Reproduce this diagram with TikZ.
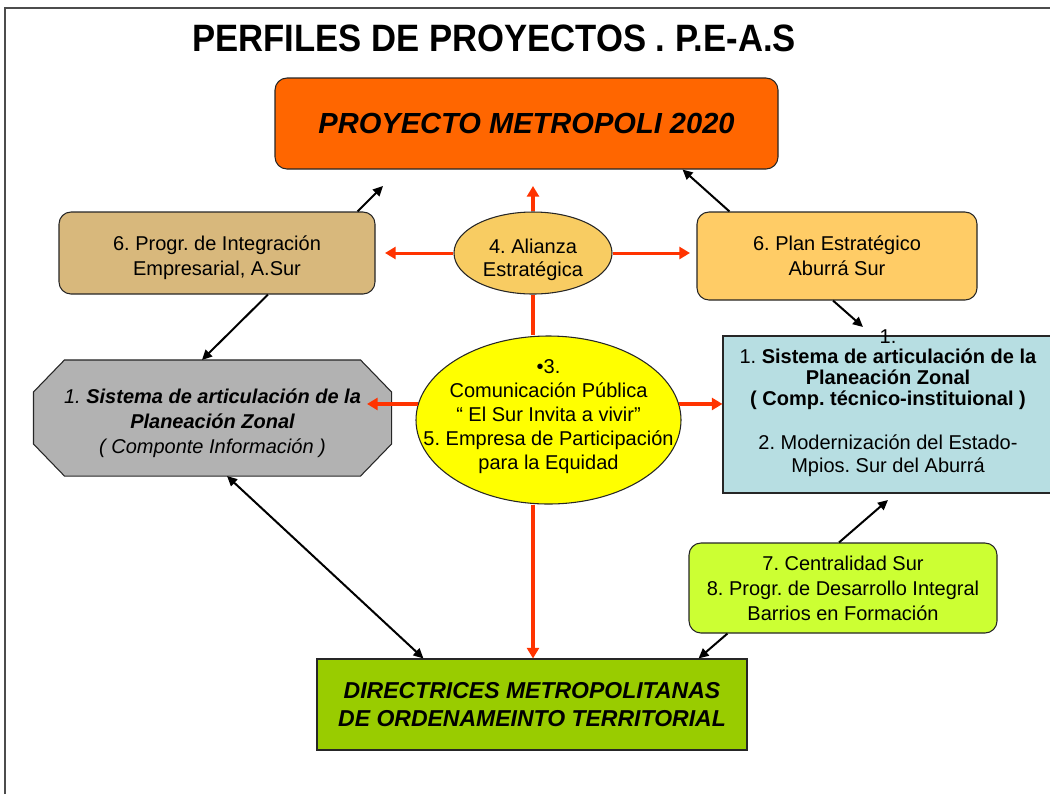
\documentclass[tikz,border=0pt]{standalone}
\usepackage{fontspec}
\setmainfont{Liberation Sans}
\usepackage{xcolor}
\usetikzlibrary{shapes.geometric,arrows.meta,backgrounds}
\frenchspacing

\definecolor{metroC}{RGB}{255,102,0}
\definecolor{integC}{RGB}{216,184,124}
\definecolor{alianzaC}{RGB}{248,204,98}
\definecolor{planC}{RGB}{255,204,102}
\definecolor{zonalC}{RGB}{178,178,178}
\definecolor{commC}{RGB}{255,255,0}
\definecolor{tecnicoC}{RGB}{183,222,226}
\definecolor{centroC}{RGB}{204,255,51}
\definecolor{dirsC}{RGB}{153,204,0}
\definecolor{redA}{RGB}{255,51,0}

\tikzset{
	txt/.style={font=\fontsize{15}{18.75}\selectfont, align=center},
	rbox/.style={draw=black!85, line width=0.8pt, rounded corners=9pt, inner sep=0pt, txt},
	sbox/.style={draw=black!85, line width=0.8pt, inner sep=0pt, txt},
	ebox/.style={ellipse, draw=black!85, line width=0.8pt, inner sep=0pt, txt},
	redarr/.style={draw=redA, line width=3pt, -{Triangle[length=8pt,width=9pt]}},
	redline/.style={draw=redA, line width=3pt},
	blkarr/.style={draw=black, line width=1.5pt, -{Triangle[length=7.5pt,width=7pt]}},
	blkdbl/.style={draw=black, line width=1.5pt, {Triangle[length=7.5pt,width=7pt]}-{Triangle[length=7.5pt,width=7pt]}}
}

\begin{document}
\begin{tikzpicture}[x=0.75pt,y=0.75pt,yscale=-1,xscale=1]
	\useasboundingbox (0,0) rectangle (1050,794);
	
	%Frame
	\draw[line width=1pt, black!70] (5,794) -- (5,8) -- (1050,8);
	
	% Text Node
	\node[font=\fontsize{26}{30}\selectfont\bfseries] (title) at (494,38) {\scalebox{1}[1.1]{PERFILES DE PROYECTOS . P.E-A.S}};
	
	%Rounded Rect
	\node[rbox, fill=metroC, minimum width=377.25pt, minimum height=68.25pt, font=\fontsize{21.8}{26}\selectfont\bfseries\itshape] (metro) at (526.5,123.5) {PROYECTO METROPOLI 2020};
	%Rounded Rect
	\node[rbox, fill=integC, minimum width=237pt, minimum height=61.5pt] (integ) at (217,253) {\rule{0pt}{18pt}6. Progr. de Integración\\Empresarial, A.Sur};
	%Ellipse
	\node[ebox, fill=alianzaC, minimum width=118.5pt, minimum height=61.5pt] (alianza) at (533,253) {\smash{\makebox[0pt]{\raisebox{-9pt}{\fontsize{15}{17.25}\selectfont\begin{tabular}{@{}c@{}}4. Alianza\\Estratégica\end{tabular}}}}};
	%Rounded Rect
	\node[rbox, fill=planC, minimum width=210pt, minimum height=66pt] (plan) at (837,256) {6. Plan Estratégico\\Aburrá Sur};
	%Octagon
	\node[sbox, draw=none, minimum width=267.75pt, minimum height=86.25pt] (zonal) at (212.5,418) {\rule{0pt}{19pt}\itshape 1. \textbf{Sistema de articulación de la}\\\bfseries\itshape Planeación Zonal\\\itshape ( Componte Información )};
	\begin{scope}[on background layer]
		\filldraw[draw=black!85, line width=0.8pt, fill=zonalC] ([xshift=23.25pt]zonal.north west) -- ([xshift=-23.25pt]zonal.north east) -- ([yshift=24pt]zonal.north east) -- ([yshift=-24pt]zonal.south east) -- ([xshift=-23.25pt]zonal.south east) -- ([xshift=23.25pt]zonal.south west) -- ([yshift=-24pt]zonal.south west) -- ([yshift=24pt]zonal.north west) -- cycle;
	\end{scope}
	%Ellipse
	\node[ebox, fill=commC, minimum width=198.75pt, minimum height=126pt] (comm) at (548.5,420) {\smash{\makebox[0pt]{\raisebox{-0.8pt}{\fontsize{15}{18}\selectfont\begin{tabular}{@{}c@{}}•3.\\Comunicación Pública\\“ El Sur Invita a vivir”\\5. Empresa de Participación\\para la Equidad\end{tabular}}}}};
	%Rect
	\node[sbox, fill=tecnicoC, minimum width=267.75pt, minimum height=117.75pt] (tecnico) at (901.5,414.5) {\smash{\makebox[0pt]{\raisebox{4.4pt}{\fontsize{15}{15}\selectfont\begin{tabular}{@{}c@{}}1.\\1. \textbf{Sistema de articulación de la}\\\textbf{Planeación Zonal}\\\textbf{( Comp. técnico-instituional )}\\[18pt]2. Modernización del Estado-\\[1.5pt]Mpios. Sur del Aburrá\end{tabular}}\hspace*{20.25pt}}}};
	%Rounded Rect
	\node[rbox, fill=centroC, minimum width=231pt, minimum height=67.5pt] (centro) at (843,588) {7. Centralidad Sur\\8. Progr. de Desarrollo Integral\\Barrios en Formación};
	%Rect
	\node[sbox, fill=dirsC, minimum width=322.5pt, minimum height=68.25pt, font=\fontsize{17.25}{21}\selectfont\bfseries\itshape] (dirs) at (532,704.5) {DIRECTRICES METROPOLITANAS\\DE ORDENAMEINTO TERRITORIAL};
	
	%Free ends
	\coordinate (metroL) at (383,186);
	\coordinate (metroM) at (533,186);
	\coordinate (integR) at (385,253);
	\coordinate (planL) at (690,253);
	\coordinate (zonalR) at (367,410);
	\coordinate (tecTop) at (863,327);
	\coordinate (tecBot) at (888,500);
	
	%Straight Lines (red)
	\draw[redarr] (alianza.north) -- (metroM);
	\draw[redarr, line width=2.25pt] (alianza.west) -- (integR);
	\draw[redarr, line width=2.25pt] (alianza.east) -- (planL);
	\draw[redline] (alianza.south) -- (alianza.south |- comm.north);
	\draw[redarr] (comm.173) -- (comm.173 -| zonalR);
	\draw[redarr] (comm.7) -- (comm.7 -| tecnico.west);
	\draw[redarr] (alianza.south |- comm.south) -- (alianza.south |- dirs.north);
	
	%Straight Lines (black)
	\draw[blkarr] ([xshift=-13.5pt]integ.north east) -- (metroL);
	\draw[blkarr] ([xshift=24.75pt]plan.north west) -- ([xshift=-72pt]metro.south east);
	\draw[blkarr] ([xshift=38.25pt]integ.south) -- ([xshift=-7.9pt]zonal.north);
	\draw[blkarr] ([xshift=-3pt]plan.south) -- (tecTop);
	\draw[blkdbl] ([xshift=10.9pt]zonal.south) -- ([xshift=80.25pt]dirs.north west);
	\draw[blkarr] ([xshift=-3pt]centro.north) -- (tecBot);
	\draw[blkarr] ([xshift=29.25pt]centro.south west) -- ([xshift=-36.75pt]dirs.north east);
	
\end{tikzpicture}
\end{document}
